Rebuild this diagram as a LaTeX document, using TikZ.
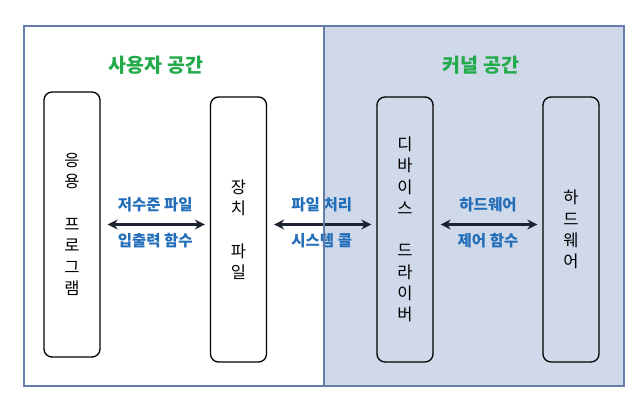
\documentclass[tikz,border=0pt]{standalone}
\usepackage{fontspec}
\setmainfont{Noto Sans CJK KR}
\usetikzlibrary{arrows.meta, positioning}
\definecolor{mygreen}{RGB}{35, 170, 75}
\definecolor{myblue}{RGB}{35, 110, 185}
\definecolor{kernelfill}{RGB}{207, 217, 234}
\definecolor{framecol}{RGB}{100, 125, 170}
\definecolor{arrowcol}{RGB}{30, 35, 50}

\begin{document}
\begin{tikzpicture}[x=1pt, y=-1pt,
    devbox/.style={draw, line width=1.3pt, rounded corners=8pt, minimum width=56pt,
        minimum height=265pt, align=center, inner sep=0pt,
        font=\fontsize{16.5}{21.3}\selectfont},
    spacetitle/.style={text=mygreen, font=\fontsize{19.5}{21}\selectfont\bfseries},
    calllabel/.style={text=myblue, font=\fontsize{15.5}{17}\selectfont\bfseries},
    callarrow/.style={{Stealth[length=10pt, width=10pt]}-{Stealth[length=10pt, width=10pt]},
        line width=2.6pt, draw=arrowcol, shorten <=7pt, shorten >=5pt}]

    \useasboundingbox (0,0) rectangle (644,408);

    % Kernel space background
    \fill[kernelfill] (324,26) rectangle (624,386);

    % Space titles
    \node[spacetitle] (usertitle) at (156,65) {사용자 공간};
    \node[spacetitle] (kerneltitle) at (481,65) {커널 공간};

    % Boxes
    \node[devbox] (app) at (72,224.5) {응\\용\\\strut\\프\\로\\그\\램};
    \node[devbox] (devfile) at (238.5,229.5) {장\\치\\\strut\\파\\일};
    \node[devbox] (driver) at (405,229.5) {디\\바\\이\\스\\\strut\\드\\라\\이\\버};
    \node[devbox] (hw) at (571,229.5) {하\\드\\웨\\어};

    % Calls between the boxes
    \draw[callarrow] (app.east) -- (devfile.west |- app.east)
        node[midway, calllabel, yshift=20pt] (lowio) {저수준 파일}
        node[midway, calllabel, yshift=-16.5pt] (iofunc) {입출력 함수};
    \draw[callarrow] (devfile.east |- app.east) -- (driver.west |- app.east)
        node[midway, calllabel, yshift=20pt] (fileproc) {파일 처리}
        node[midway, calllabel, yshift=-16.5pt] (syscall) {시스템 콜};
    \draw[callarrow] (driver.east |- app.east) -- (hw.west |- app.east)
        node[midway, calllabel, yshift=20pt] (hwword) {하드웨어}
        node[midway, calllabel, yshift=-16.5pt] (ctrlfunc) {제어 함수};

    % Frame and divider
    \draw[framecol, line width=1.2pt] (24,26) rectangle (624,386);
    \draw[framecol, line width=1.2pt] (324,26) -- (324,386);

\end{tikzpicture}
\end{document}
